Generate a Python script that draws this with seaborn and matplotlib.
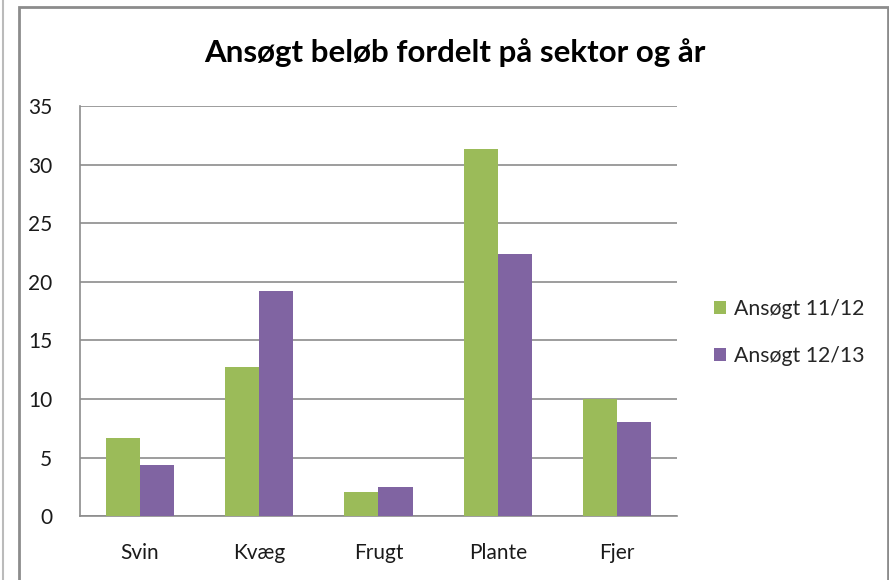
import pandas as pd
import matplotlib.pyplot as plt
import seaborn as sns
from matplotlib.patches import Rectangle

# Data
sectors = ['Svin', 'Kvæg', 'Frugt', 'Plante', 'Fjer']
series_names = ['Ansøgt 11/12', 'Ansøgt 12/13']
values_1112 = [6.7, 12.7, 2.1, 31.3, 10.0]
values_1213 = [4.4, 19.2, 2.5, 22.4, 8.0]
y_ticks = [0, 5, 10, 15, 20, 25, 30, 35]

GREEN = '#9BBB59'
PURPLE = '#8064A2'
GRID = '#8C8C8C'


def build_frame():
    """Put the two series into long format for seaborn."""
    rows = []
    for name, vals in zip(series_names, [values_1112, values_1213]):
        for sector, v in zip(sectors, vals):
            rows.append({'Sektor': sector, 'Serie': name, 'Beløb': v})
    return pd.DataFrame(rows)


def main():
    sns.set_style('white')
    plt.rcParams['font.family'] = ['Lato', 'DejaVu Sans']

    data = build_frame()

    fig = plt.figure(figsize=(8.89, 5.80), dpi=100)
    ax = fig.add_axes([0.090, 0.110, 0.6715, 0.707])

    sns.barplot(data=data, x='Sektor', y='Beløb', hue='Serie',
                palette=[GREEN, PURPLE], width=0.571, gap=0,
                saturation=1, edgecolor='none', ax=ax, zorder=3)

    ax.set_ylim(0, 35)
    ax.set_xlim(-0.5, len(sectors) - 0.5)
    ax.set_yticks(y_ticks)
    ax.set_xlabel('')
    ax.set_ylabel('')
    ax.yaxis.grid(True, color=GRID, linewidth=1.2, zorder=0)
    ax.set_axisbelow(True)
    for side in ['top', 'right']:
        ax.spines[side].set_visible(False)
    for side in ['left', 'bottom']:
        ax.spines[side].set_color(GRID)
        ax.spines[side].set_linewidth(1.2)
    ax.tick_params(axis='y', length=0, pad=20, labelsize=15, labelcolor='#1a1a1a')
    ax.tick_params(axis='x', length=0, pad=19, labelsize=15, labelcolor='#1a1a1a')

    ax.legend(loc='center left', bbox_to_anchor=(1.03, 0.448), frameon=False,
              fontsize=15.3, handlelength=0.55, handleheight=0.55,
              handletextpad=0.4, labelspacing=1.3)

    fig.text(0.512, 0.909, 'Ansøgt beløb fordelt på sektor og år',
             ha='center', va='center', fontsize=22.5, fontweight='bold',
             color='black')

    # chart frame like the Excel chart area
    fig.patches.append(Rectangle((19 / 889, -0.05), (888 - 19) / 889, 1.05 - 7 / 580,
                                 transform=fig.transFigure, fill=False,
                                 edgecolor='#8C8C8C', linewidth=2))
    fig.lines.append(plt.Line2D([3 / 889, 3 / 889], [0, 1], transform=fig.transFigure,
                                color='#BBBBBB', linewidth=1.5))

    fig.savefig('out.png', dpi=100)


if __name__ == '__main__':
    main()
